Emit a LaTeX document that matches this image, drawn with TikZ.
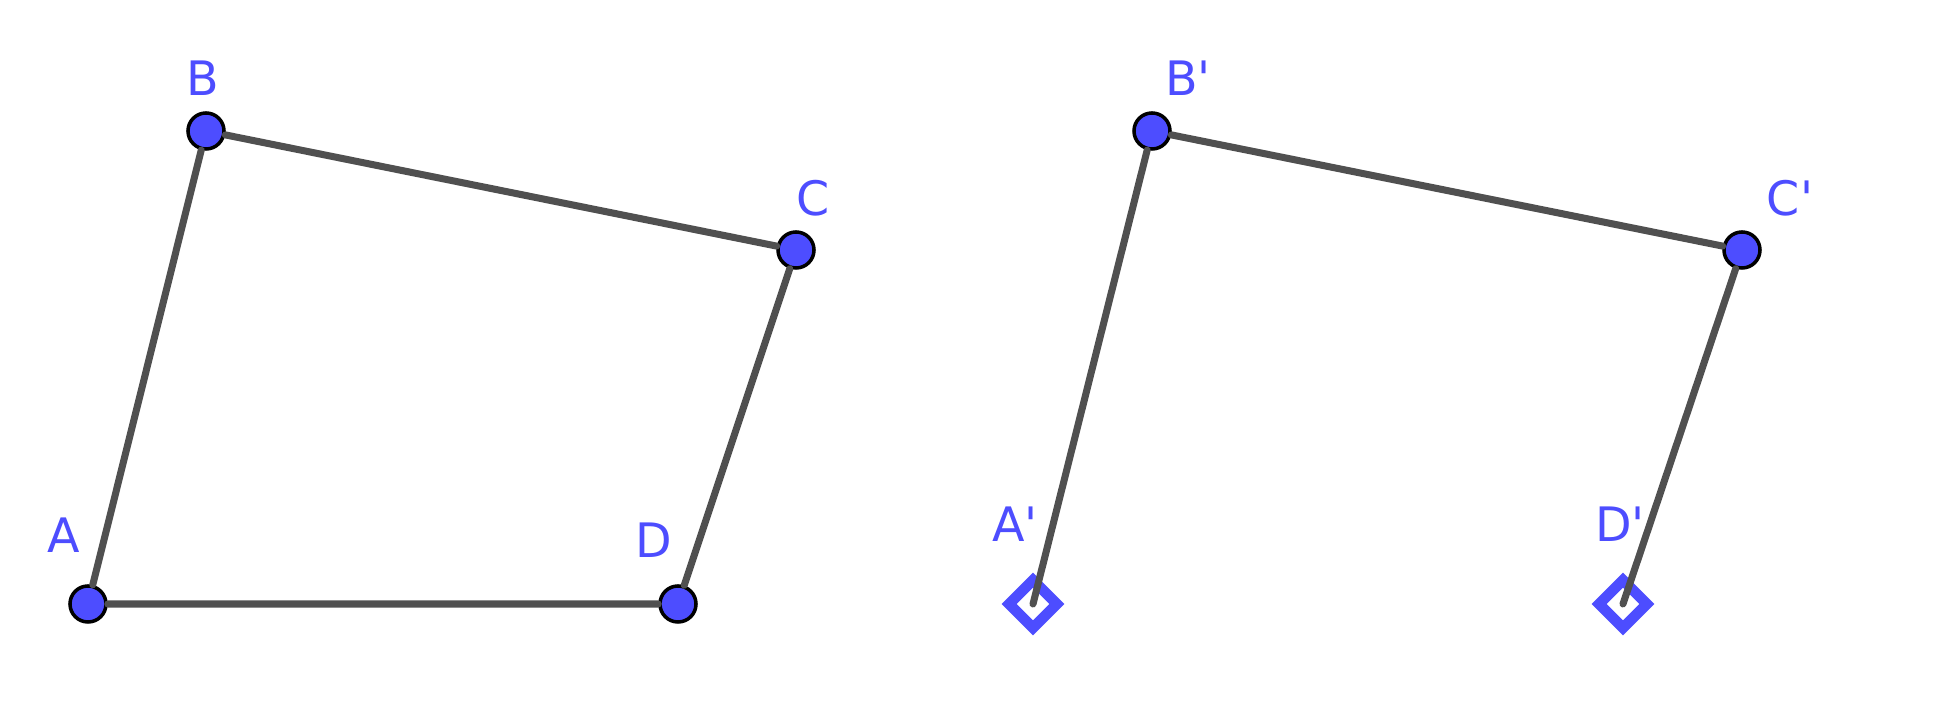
\documentclass[tikz,border=0pt]{standalone}
\usepackage{fontspec}
\newfontfamily\labelfont{DejaVu Sans}
\usetikzlibrary{shapes.geometric}
\definecolor{ptblue}{HTML}{4D4DFF}
\definecolor{segray}{HTML}{505050}
\begin{document}
\begin{tikzpicture}[x=0.01cm,y=-0.01cm]
        \useasboundingbox (0,0) rectangle (1947,728);
        \begin{scope}
            \tikzstyle{every node}=[fill=ptblue, draw=black, circle, line width=1pt, inner sep=0pt, minimum size=0.36cm]
            \node (A) at (88,604) {};
            \node (B) at (206,131) {};
            \node (C) at (796,250) {};
            \node (D) at (678,604) {};
            \node (B') at (1152,131) {};
            \node (C') at (1742,250) {};
        \end{scope}
        \begin{scope}
            \tikzstyle{every node}=[draw=ptblue, diamond, line width=3pt, inner sep=0pt, minimum size=0.52cm]
            \node (A') at (1033,604) {};
            \node (D') at (1623,604) {};
        \end{scope}
        \begin{scope}
            \tikzstyle{every path}=[draw=segray, line width=2pt, line cap=round]
            \path (A) -- (B) -- (C) -- (D) -- (A);
            \path (A'.center) -- (B') -- (C') -- (D'.center);
        \end{scope}
        \begin{scope}
            \tikzstyle{every node}=[text=ptblue, font=\labelfont\fontsize{13.5pt}{16pt}\selectfont, inner sep=0pt]
            \node (lA) at (64,535) {A};
            \node (lB) at (203,78) {B};
            \node (lC) at (813,198) {C};
            \node (lD) at (654,540) {D};
            \node (lA') at (1015,524) {A'};
            \node (lB') at (1188,78) {B'};
            \node (lC') at (1790,198) {C'};
            \node (lD') at (1620,524) {D'};
        \end{scope}
    \end{tikzpicture}
\end{document}
